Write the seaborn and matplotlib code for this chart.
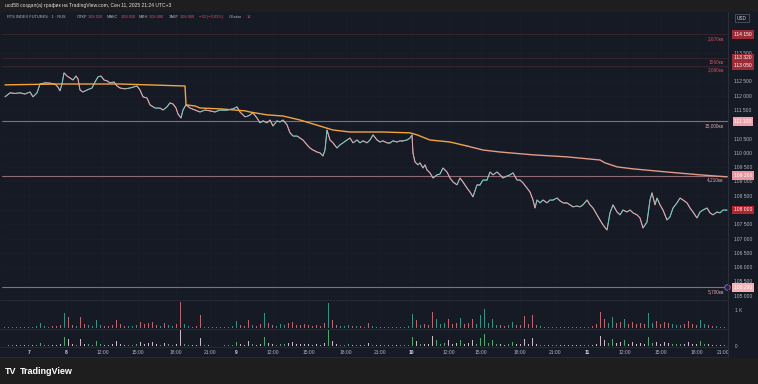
import numpy as np
import pandas as pd
import matplotlib
matplotlib.use('Agg')
import matplotlib.pyplot as plt
import seaborn as sns
from matplotlib.collections import LineCollection
from matplotlib.patches import Rectangle
from matplotlib.lines import Line2D

# x axis = 5-minute bar number on the trading timeline (gaps removed)
bar_no = [5, 10, 15, 20, 25, 30, 33, 37, 40, 45,
          50, 55, 58, 60, 62, 64, 67, 70, 73, 76,
          78, 80, 83, 87, 92, 95, 98, 101, 104, 107,
          110, 114, 117, 120, 125, 130, 137, 140, 143, 147,
          150, 155, 160, 163, 167, 170, 173, 176, 178, 181,
          183, 186, 190, 195, 200, 205, 210, 215, 220, 227,
          233, 237, 240, 245, 248, 250, 253, 257, 260, 263,
          267, 270, 273, 277, 280, 283, 287, 290, 293, 297,
          300, 303, 307, 310, 313, 317, 320, 323, 325, 327,
          330, 333, 337, 340, 343, 347, 350, 353, 357, 360,
          363, 367, 370, 373, 377, 380, 383, 387, 390, 393,
          397, 400, 403, 407, 410, 412, 413, 415, 418, 420,
          423, 425, 427, 430, 433, 437, 440, 443, 447, 450,
          453, 457, 460, 463, 467, 470, 473, 477, 480, 483,
          487, 490, 493, 497, 500, 503, 507, 510, 513, 517,
          520, 523, 527, 530, 533, 535, 537, 540, 543, 547,
          550, 553, 557, 560, 563, 567, 570, 573, 577, 580,
          583, 587, 590, 593, 597, 600, 603, 607, 610, 613,
          617, 620, 623, 627, 630, 633, 637, 640, 643, 647,
          650, 652, 655, 657, 660, 663, 667, 670, 673, 677,
          680, 683, 687, 690, 693, 697, 700, 703, 707, 710,
          713, 717, 720, 723, 727]
close = [111960, 112100, 112080, 112100, 112060, 112130, 111960, 112100, 112410, 112450,
         112440, 112410, 112300, 112170, 112410, 112800, 112690, 112620, 112550, 112690,
         112590, 112200, 112130, 112200, 112270, 112480, 112660, 112690, 112550, 112520,
         112450, 112480, 112340, 112270, 112240, 112270, 112340, 112200, 111960, 111920,
         111680, 111570, 111570, 111500, 111610, 111750, 111710, 111570, 111360, 111220,
         111500, 111680, 111570, 111500, 111430, 111500, 111470, 111430, 111500, 111500,
         111540, 111610, 111430, 111260, 111290, 111330, 111400, 111220, 111050, 111120,
         111050, 111150, 110940, 111120, 111080, 111150, 110980, 110700, 110590, 110590,
         110520, 110450, 110280, 110170, 110100, 110030, 110000, 109890, 110100, 110800,
         110450, 110350, 110170, 110280, 110350, 110450, 110520, 110350, 110450, 110350,
         110420, 110350, 110450, 110630, 110450, 110380, 110420, 110350, 110350, 110420,
         110380, 110420, 110420, 110450, 110520, 110630, 109990, 109680, 109580, 109650,
         109470, 109580, 109400, 109300, 109120, 109230, 109260, 109470, 109330, 109120,
         108980, 108880, 109120, 108980, 108770, 108630, 108460, 108880, 108880, 109050,
         109050, 109330, 109230, 109330, 109230, 109120, 109190, 109230, 109300, 109050,
         109050, 108950, 108770, 108630, 108350, 108070, 108350, 108250, 108350, 108250,
         108350, 108350, 108420, 108320, 108250, 108250, 108180, 108110, 108140, 108110,
         108180, 108350, 108180, 108070, 107830, 107650, 107480, 107300, 107900, 108180,
         107930, 107830, 108000, 107930, 108000, 107900, 107830, 107720, 107370, 107580,
         108350, 108600, 108180, 108420, 108180, 108000, 107650, 107760, 108070, 108250,
         108420, 108350, 108250, 108070, 107930, 107720, 107930, 108000, 108070, 107900,
         107830, 107930, 107900, 108000, 108000]

vwap_bar = [5, 60, 120, 185, 186, 195, 200, 220, 245, 250, 267, 283, 300, 317, 333,
            350, 383, 410, 417, 430, 450, 467, 483, 500, 533, 567, 600, 605, 617, 633,
            667, 700, 727]
vwap = [112380, 112410, 112410, 112340, 111680, 111640, 111570, 111540, 111470, 111430,
        111330, 111290, 111150, 110970, 110800, 110730, 110730, 110700, 110630, 110450,
        110380, 110240, 110100, 110030, 109930, 109860, 109750, 109650, 109510, 109440,
        109330, 109230, 109160]

# volume per 4-bar bucket, buckets 4, 8, ... 724
volume = [30, 55, 55, 55, 55, 55, 80, 55, 110, 275,
          110, 80, 110, 110, 165, 825, 605, 165, 110, 605,
          220, 165, 110, 440, 165, 110, 110, 165, 440, 220,
          110, 110, 110, 165, 330, 220, 275, 330, 165, 110,
          275, 165, 110, 220, 1430, 220, 110, 55, 110, 715,
          55, 55, 30, 30, 30, 55, 55, 110, 385, 165,
          110, 440, 165, 110, 220, 825, 275, 165, 110, 220,
          165, 275, 330, 165, 165, 220, 165, 110, 165, 110,
          275, 1375, 440, 165, 110, 110, 165, 110, 110, 110,
          80, 275, 110, 80, 55, 55, 55, 55, 55, 55,
          80, 110, 770, 440, 165, 220, 165, 880, 495, 220,
          275, 495, 220, 275, 550, 220, 275, 495, 220, 715,
          1045, 275, 495, 165, 165, 110, 165, 330, 165, 165,
          660, 220, 715, 165, 110, 55, 55, 55, 55, 80,
          55, 55, 55, 55, 55, 55, 80, 110, 220, 880,
          495, 275, 605, 275, 330, 495, 220, 330, 220, 275,
          220, 825, 275, 385, 220, 330, 275, 220, 165, 165,
          220, 385, 220, 165, 440, 220, 165, 110, 110, 55,
          55]
vol_bar = np.arange(len(volume)) * 4 + 4

tick_pos = [29, 66, 103, 138, 176, 210, 236, 273, 309, 346, 380,
            412, 449, 481, 520, 555, 587, 625, 661, 697, 723]
tick_lab = ['7', '8', '12:00', '15:00', '18:00', '21:00', '9', '12:00', '15:00', '18:00', '21:00',
            '10', '12:00', '15:00', '18:00', '21:00', '11', '12:00', '15:00', '18:00', '21:00']
day_labels = ['7', '8', '9', '10', '11']
price_ticks = list(range(105000, 114001, 500))
hidden_ticks = [114000, 113000, 111000, 108000]  # covered by the price boxes

level_price = [114150, 113320, 113050, 111100, 109200, 105290]
level_qty = ['2,670кв', '1560кв', '2,690кв', '15,000кв', '4,210кв', '5,700кв']
box_price = [114150, 113320, 113050, 111100, 109200, 108000, 105290]

BG = '#161a25'
GRID = '#1b1f2c'
TXT = '#b2b5be'
SEP = '#2a2e39'

sns.set_theme(style='dark', rc={'axes.facecolor': BG, 'figure.facecolor': '#1e1e1e'})
plt.rcParams['font.family'] = ['Liberation Sans', 'DejaVu Sans']


def fy(py):
    return 1 - py / 384


fig = plt.figure(figsize=(7.58, 3.84), dpi=100)
fig.patches.append(Rectangle((0, fy(357)), 1, 345 / 384, transform=fig.transFigure,
                             color=BG, zorder=-10))

L, W = 2 / 758, 726 / 758
ax = fig.add_axes([L, fy(300), W, 288 / 384])
ax1 = fig.add_axes([L, fy(329), W, 29 / 384])
ax2 = fig.add_axes([L, fy(347), W, 18 / 384])

for a in (ax, ax1, ax2):
    a.set_facecolor(BG)
    a.set_xlim(2, 728)
    for s in a.spines.values():
        s.set_visible(False)
    a.set_xticks(tick_pos)
    a.grid(True, axis='x', color=GRID, lw=0.5)
    a.tick_params(length=0)

# price pane
ax.set_ylim(104850, 114930)
ax.set_yticks(price_ticks)
ax.grid(True, axis='y', color=GRID, lw=0.5)
ax.yaxis.tick_right()
ax.set_yticklabels(['' if p in hidden_ticks else f'{p:,}'.replace(',', ' ') for p in price_ticks],
                   fontsize=3.6, color=TXT)
ax.tick_params(axis='y', pad=4)
ax.set_xticklabels([])

df = pd.DataFrame({'bar': bar_no, 'close': close})
sns.lineplot(data=df, x='bar', y='close', ax=ax, color='#d4d4d4', lw=0.7, zorder=3)
pts = np.column_stack([bar_no, close])
segs = np.stack([pts[:-1], pts[1:]], axis=1)
seg_col = np.where(np.diff(close) >= 0, '#4fc3b5', '#ef8f98')
ax.add_collection(LineCollection(segs, colors=seg_col, lw=0.7, alpha=0.65, zorder=4))

vw = pd.DataFrame({'bar': vwap_bar, 'vwap': vwap})
sns.lineplot(data=vw[vw.bar <= 467], x='bar', y='vwap', ax=ax, color='#f3a53c', lw=1.0, zorder=5)
sns.lineplot(data=vw[vw.bar >= 467], x='bar', y='vwap', ax=ax, color='#e39a86', lw=1.0, zorder=5)

for i, (p, q) in enumerate(zip(level_price, level_qty)):
    top = i < 3
    ax.axhline(p, color='#3e2530' if top else '#8f6a74', lw=0.6 if top else 0.8, zorder=2)
    ax.annotate(q, (724, p), xytext=(0, -1.2), textcoords='offset points', ha='right', va='top',
                fontsize=3.4, color='#c25561' if top else '#d9a5ad')

box_face = ['#9c2b36', '#9c2b36', '#9c2b36', '#f2a3aa', '#e897a0', '#b3242f', '#f5b1b6']
for p, fc in zip(box_price, box_face):
    ax.text(1.0207, p, f'{p:,}'.replace(',', ' '), transform=ax.get_yaxis_transform(),
            ha='center', va='center', fontsize=3.6, color='white', zorder=10,
            bbox=dict(boxstyle='square,pad=0.35', fc=fc, ec='none'))
ax.scatter([727], [105290], s=16, facecolor='#2a1f3d', edgecolor='#9c6ade', lw=0.6,
           clip_on=False, zorder=11)
ax.set_xlabel('')
ax.set_ylabel('')

# volume panes
close_at = np.interp(vol_bar, bar_no, close)
prev_at = np.interp(vol_bar - 4, bar_no, close)
up = close_at >= prev_at
ax1.bar(vol_bar, volume, width=1.0, color=np.where(up, '#3a8f87', '#b8676e'), linewidth=0)
ax1.set_ylim(-55, 1555)
ax1.set_yticks([])
ax1.set_xticklabels([])

ax2.bar(vol_bar, volume, width=1.0, color=np.where(up, '#4fa86a', '#cdb8c6'), linewidth=0)
ax2.set_ylim(-80, 1500)
ax2.set_yticks([])
ax2.set_xticklabels(tick_lab, fontsize=3.6, color=TXT)
ax2.tick_params(axis='x', pad=2.5)
for t in ax2.get_xticklabels():
    if t.get_text() in day_labels:
        t.set_fontweight('bold')
        t.set_color('#d1d4dc')

# separators
for y in (300, 329, 347, 357):
    fig.add_artist(Line2D([0, 728 / 758], [fy(y), fy(y)], color=SEP, lw=0.6))
fig.add_artist(Line2D([728 / 758] * 2, [fy(12), fy(357)], color=SEP, lw=0.8))

fig.text(735 / 758, fy(310), '1 K', fontsize=3.4, color=TXT, va='center')
fig.text(735 / 758, fy(346), '0', fontsize=3.4, color=TXT, va='center')
fig.text(742 / 758, fy(18), 'USD', fontsize=3.4, color='#d1d4dc', ha='center', va='center',
         bbox=dict(boxstyle='square,pad=0.4', fc=BG, ec='#5d606b', lw=0.5))

# header and legend
fig.text(5 / 758, fy(6), 'ucd58 создал(а) график на TradingView.com, Сен 11, 2025 21:24 UTC+3',
         fontsize=3.6, color='#e0e0e0', va='center')
legend = [(7, 'RTS INDEX FUTURES · 1 · RUS', TXT), (77, 'ОТКР', TXT), (88, '108 020', '#e0535f'),
          (107, 'МАКС', TXT), (121, '108 030', '#e0535f'), (139, 'МИН', TXT),
          (149, '108 000', '#e0535f'), (169, 'ЗАКР', TXT), (180, '108 000', '#e0535f'),
          (199, '−30 (−0,03%)', '#e0535f'), (229, 'Объём', TXT), (247, '18', '#e0535f')]
for x, s, c in legend:
    fig.text(x / 758, fy(17), s, fontsize=2.9, color=c, va='center')

fig.text(5 / 758, fy(371), 'TV', fontsize=6.5, color='white', weight='heavy', va='center')
fig.text(20 / 758, fy(371), 'TradingView', fontsize=6.5, color='white', weight='semibold',
         va='center')

fig.savefig('out.png', dpi=100, facecolor='#1e1e1e')
